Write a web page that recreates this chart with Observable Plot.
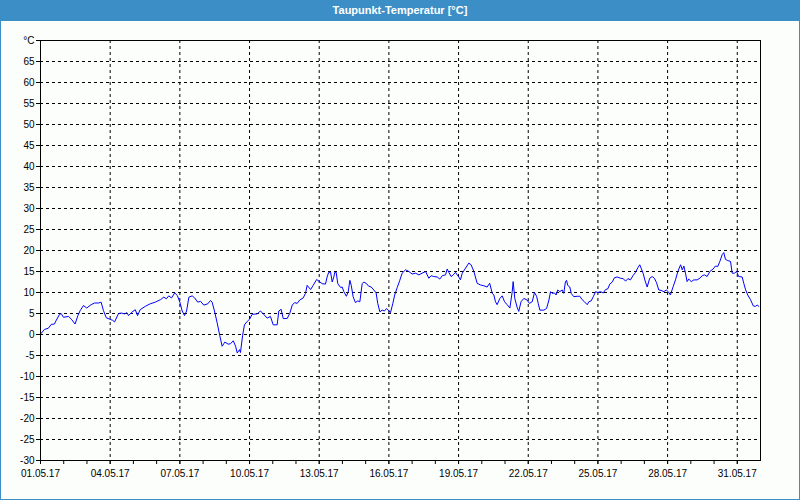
<!DOCTYPE html>
<html>
<head>
<meta charset="utf-8">
<script src="https://cdn.jsdelivr.net/npm/d3@7"></script>
<script src="https://cdn.jsdelivr.net/npm/@observablehq/plot@0.6"></script>
<style>
  html, body { margin: 0; padding: 0; background: #fcfefc; }
  #wrap { position: relative; width: 800px; height: 500px; background: #fcfefc; overflow: hidden; }
  #title { position: absolute; left: 0; top: 0; width: 800px; height: 21px; background: #3c8fc6; color: #fff;
           font: bold 11px "Liberation Sans", Arial, sans-serif; text-align: center; line-height: 20px; }
  #border { position: absolute; left: 0; top: 0; width: 800px; height: 500px; box-sizing: border-box;
            border: 1px solid #3c8fc6; pointer-events: none; }
  #chart { position: absolute; left: 0; top: 21px; }
</style>
</head>
<body>
<div id="wrap">
  <div id="title">Taupunkt-Temperatur [°C]</div>
  <div id="chart"></div>
  <div id="border"></div>
</div>
<script>
// Day of May 2017 (fractional) and dew point temperature in °C
const days = [
  1.00,1.17,1.34,1.46,1.60,1.66,1.81,1.89,1.99,2.21,
  2.35,2.49,2.61,2.71,2.85,2.99,3.18,3.33,3.50,3.61,
  3.71,3.83,4.00,4.10,4.19,4.36,4.50,4.62,4.72,4.79,
  4.93,5.08,5.18,5.29,5.51,5.72,5.94,6.17,6.31,6.42,
  6.52,6.64,6.78,6.89,7.00,7.10,7.20,7.29,7.39,7.53,
  7.64,7.77,7.89,8.03,8.20,8.32,8.39,8.49,8.61,8.72,
  8.82,8.94,9.08,9.18,9.30,9.40,9.47,9.57,9.61,9.70,
  9.78,9.90,10.01,10.11,10.33,10.47,10.61,10.76,10.90,11.02,
  11.19,11.26,11.36,11.45,11.62,11.73,11.84,11.94,12.05,12.16,
  12.31,12.41,12.48,12.63,12.74,12.89,13.03,13.13,13.27,13.34,
  13.41,13.49,13.56,13.63,13.67,13.73,13.80,13.92,13.99,14.06,
  14.17,14.25,14.32,14.38,14.46,14.56,14.66,14.75,14.85,14.92,
  15.04,15.13,15.24,15.35,15.45,15.52,15.61,15.71,15.81,15.90,
  15.97,16.07,16.17,16.25,16.36,16.47,16.57,16.72,16.86,17.00,
  17.15,17.29,17.43,17.58,17.72,17.82,17.93,18.08,18.19,18.30,
  18.44,18.51,18.58,18.68,18.77,18.87,18.94,19.01,19.08,19.16,
  19.30,19.44,19.54,19.66,19.80,19.94,20.09,20.23,20.34,20.45,
  20.52,20.59,20.66,20.78,20.88,20.98,21.09,21.21,21.31,21.35,
  21.42,21.52,21.59,21.69,21.81,21.95,22.05,22.17,22.27,22.36,
  22.43,22.50,22.67,22.79,22.89,22.96,23.03,23.13,23.20,23.27,
  23.36,23.46,23.53,23.60,23.65,23.70,23.79,23.85,23.96,24.11,
  24.22,24.32,24.42,24.54,24.61,24.71,24.80,24.90,25.00,25.11,
  25.23,25.33,25.43,25.51,25.62,25.71,25.83,25.97,26.09,26.19,
  26.29,26.40,26.52,26.62,26.72,26.80,26.86,26.95,27.02,27.12,
  27.23,27.34,27.43,27.52,27.62,27.72,27.84,27.94,28.03,28.12,
  28.24,28.34,28.44,28.56,28.63,28.70,28.77,28.84,28.91,29.02,
  29.13,29.27,29.39,29.49,29.59,29.70,29.82,29.96,30.06,30.16,
  30.25,30.35,30.42,30.49,30.59,30.71,30.78,30.88,30.97,31.06,
  31.21,31.28,31.35,31.45,31.57,31.69,31.78,31.86,31.93
];
const dewPoint = [
  0.1,1.2,1.5,2.4,2.5,3.2,4.7,5.0,4.1,4.3,
  3.5,2.5,4.5,5.7,6.9,6.3,7.1,7.5,7.5,7.7,
  5.7,4.0,3.6,3.4,3.0,5.0,5.1,4.9,5.2,4.5,
  5.3,5.9,4.5,5.9,6.7,7.3,7.7,8.3,8.9,8.5,
  9.2,8.7,9.9,9.3,7.7,5.6,4.5,5.6,8.9,9.2,
  8.7,7.7,7.9,7.0,7.3,8.1,7.7,5.6,2.7,-0.3,
  -2.8,-1.8,-2.3,-2.2,-1.5,-2.8,-4.4,-3.6,-4.3,-0.3,
  2.3,3.1,3.7,4.8,4.9,5.6,4.8,3.9,4.3,2.3,
  2.3,5.6,6.0,3.8,3.8,5.0,7.0,7.6,7.4,8.2,
  8.7,9.8,11.7,10.7,11.7,13.1,12.5,12.1,12.0,13.7,
  14.8,14.8,12.5,13.7,14.8,14.8,12.1,11.2,11.3,10.2,
  9.1,10.2,12.9,11.7,9.0,7.6,8.0,7.8,12.1,12.5,
  12.1,11.5,11.3,10.6,9.9,7.4,5.4,5.8,5.6,6.2,
  5.8,5.2,7.4,9.4,11.2,12.9,14.6,15.4,15.0,14.4,
  14.6,14.2,14.6,15.0,13.4,14.0,13.8,13.7,13.2,14.0,
  14.2,15.6,14.8,13.8,14.2,14.8,14.2,13.7,13.0,14.6,
  15.8,17.0,16.6,15.0,12.2,11.8,11.6,11.3,12.2,9.8,
  9.4,7.8,7.1,8.6,9.2,7.8,7.1,6.3,10.2,12.6,
  8.6,6.5,5.5,7.8,8.6,8.2,7.4,7.8,10.0,9.1,
  7.4,5.8,5.8,6.2,8.2,10.2,9.8,9.9,9.4,10.6,
  10.2,10.6,9.8,12.5,12.9,11.7,11.3,9.8,9.0,9.1,
  9.1,8.3,7.8,7.1,7.8,8.0,9.0,10.2,10.0,10.2,
  9.9,10.7,10.9,12.0,12.5,13.5,13.7,13.4,13.3,12.7,
  13.3,13.0,14.1,14.8,15.9,16.6,15.8,14.5,13.0,11.3,
  13.4,13.8,13.4,12.4,10.6,10.5,10.2,10.6,10.2,9.4,
  11.4,13.0,15.0,16.6,15.4,16.3,14.6,12.6,13.2,12.6,
  13.0,13.0,13.4,14.0,14.2,13.8,15.0,15.6,16.3,16.2,
  17.4,19.0,19.5,17.9,17.6,17.4,14.6,14.6,15.0,13.8,
  13.7,12.2,10.8,9.4,8.3,6.8,6.7,7.0,6.7
];
// Axis ticks
const labelDays = [1, 4, 7, 10, 13, 16, 19, 22, 25, 28, 31];
const minorDays = d3.range(1, 32);
const yTicks = d3.range(-30, 71, 5);
const yUnitLabel = "°C";

const toDate = d => new Date(Date.UTC(2017, 4, 1) + (d - 1) * 864e5);
const data = days.map((d, i) => ({date: toDate(d), value: dewPoint[i]}));
const labelDates = labelDays.map(toDate);
const minorDates = minorDays.map(toDate);
const fmt = d3.utcFormat("%d.%m.%y");

const chart = Plot.plot({
  width: 800,
  height: 478,
  marginLeft: 40,
  marginRight: 40,
  marginTop: 19,
  marginBottom: 39,
  style: {background: "transparent", fontFamily: "'Liberation Sans', Arial, sans-serif", fontSize: "10px", color: "#000"},
  x: {type: "utc", domain: [toDate(1), toDate(32)], label: null},
  y: {domain: [-30, 70], label: null},
  marks: [
    Plot.gridY(yTicks.filter(v => v > -30 && v < 70), {stroke: "#000", strokeOpacity: 1, strokeDasharray: "3,3"}),
    Plot.gridX(labelDates.slice(1), {stroke: "#000", strokeOpacity: 1, strokeDasharray: "3,3"}),
    Plot.axisY(yTicks, {tickSize: 4, tickPadding: 2, label: null, tickFormat: v => v === 70 ? yUnitLabel : String(v)}),
    Plot.axisX(minorDates, {tickSize: 4, label: null, tickFormat: () => ""}),
    Plot.axisX(labelDates, {tickSize: 4, tickPadding: 5, label: null, tickFormat: fmt}),
    Plot.line(data, {x: "date", y: "value", stroke: "#0000ff", strokeWidth: 1}),
    Plot.frame({stroke: "#000", strokeWidth: 1})
  ]
});
document.getElementById("chart").appendChild(chart);
</script>
</body>
</html>
